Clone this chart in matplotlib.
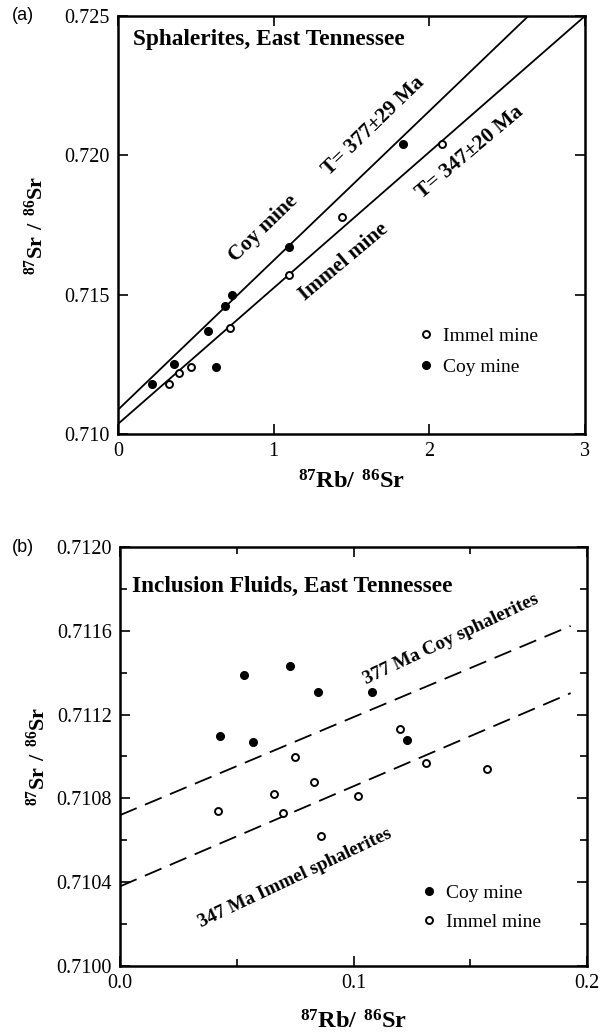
import numpy as np
import matplotlib
matplotlib.use("Agg")
import matplotlib.pyplot as plt
from matplotlib.lines import Line2D
from matplotlib.ticker import MultipleLocator, FormatStrFormatter

plt.rcParams['font.family'] = ['Liberation Serif', 'DejaVu Serif']
plt.rcParams['mathtext.fontset'] = 'custom'
plt.rcParams['mathtext.rm'] = 'Liberation Serif'
plt.rcParams['mathtext.bf'] = 'Liberation Serif:bold'

# (a) sphalerites
a_coy_x = [0.22, 0.36, 0.58, 0.63, 0.69, 0.73, 1.10, 1.83]
a_coy_y = [0.7118, 0.7125, 0.7137, 0.7124, 0.7146, 0.7150, 0.7167, 0.7204]
a_imm_x = [0.33, 0.39, 0.47, 0.72, 1.10, 1.44, 2.08]
a_imm_y = [0.7118, 0.7122, 0.7124, 0.7138, 0.7157, 0.7178, 0.7204]
a_iso_coy = (0.71087, 0.00536)   # intercept, slope
a_iso_imm = (0.71036, 0.00488)

# (b) inclusion fluids
b_coy_x = [0.043, 0.053, 0.057, 0.073, 0.085, 0.108, 0.123]
b_coy_y = [0.71110, 0.71139, 0.71107, 0.71143, 0.71131, 0.71131, 0.71108]
b_imm_x = [0.042, 0.066, 0.070, 0.075, 0.083, 0.086, 0.102, 0.120, 0.131, 0.157]
b_imm_y = [0.71074, 0.71082, 0.71073, 0.71100, 0.71088, 0.71062, 0.71081,
           0.71113, 0.71097, 0.71094]
b_ref_coy = (0.71072, 0.00468)
b_ref_imm = (0.71038, 0.00478)

fig = plt.figure(figsize=(6.04, 10.36), dpi=100)
ax1 = fig.add_axes([118 / 604, 1 - 434 / 1036, 467 / 604, 418 / 1036])
ax2 = fig.add_axes([120 / 604, 1 - 966 / 1036, 467 / 604, 419 / 1036])

filled = dict(marker='o', ls='none', ms=5.5, mfc='black', mec='black')
hollow = dict(marker='o', ls='none', ms=5, mfc='white', mec='black', mew=1.4)


def style(ax):
    for s in ax.spines.values():
        s.set_linewidth(1.8)
    ax.tick_params(which='both', direction='in', top=True, right=True,
                   labelsize=14.5, width=1.2, pad=6)
    ax.tick_params(which='major', length=7)
    ax.tick_params(which='minor', length=5)


# ---- panel (a)
for b, m in (a_iso_coy, a_iso_imm):
    xe = min(3.0, (0.725 - b) / m)
    ax1.plot([0, xe], [b, b + m * xe], color='black', lw=1.3)
ax1.plot(a_imm_x, a_imm_y, **hollow)
ax1.plot(a_coy_x, a_coy_y, **filled)
ax1.set_xlim(0, 3)
ax1.set_ylim(0.710, 0.725)
ax1.xaxis.set_major_locator(MultipleLocator(1))
ax1.yaxis.set_major_locator(MultipleLocator(0.005))
ax1.yaxis.set_major_formatter(FormatStrFormatter('%.3f'))
style(ax1)

title = dict(fontweight='bold', fontsize=16.8)
rot = dict(fontweight='bold', fontsize=15.4, ha='center', va='center',
           rotation_mode='anchor')
ax1.text(0.096, 0.72414, 'Sphalerites, East Tennessee', ha='left', va='center', **title)
ax1.text(0.936, 0.71736, 'Coy mine', rotation=44, **rot)
ax1.text(1.641, 0.72104, 'T= 377±29 Ma', rotation=44, **rot)
ax1.text(1.449, 0.71618, 'Immel mine', rotation=40, **rot)
ax1.text(2.263, 0.72011, 'T= 347±20 Ma', rotation=40, **rot)

h_imm = Line2D([], [], **hollow)
h_coy = Line2D([], [], **filled)
ax1.legend([h_imm, h_coy], ['Immel mine', 'Coy mine'], loc='upper left',
           bbox_to_anchor=(0.609, 0.297), frameon=False, fontsize=14,
           handlelength=0.6, handletextpad=0.6, labelspacing=0.7)

ax1.text(-0.175, 0.5, r'$\mathbf{^{87}Sr\ /\ ^{86}Sr}$', transform=ax1.transAxes,
         rotation=90, ha='center', va='center', fontsize=16)
ax1.text(0.5, -0.115, r'$\mathbf{^{87}Rb/\ ^{86}Sr}$', transform=ax1.transAxes,
         ha='center', va='center', fontsize=17.5)

# ---- panel (b)
xr = np.array([0.0, 0.193])
for b, m in (b_ref_coy, b_ref_imm):
    ax2.plot(xr, b + m * xr, color='black', lw=1.3, dashes=(10, 5))
ax2.plot(b_coy_x, b_coy_y, **filled)
ax2.plot(b_imm_x, b_imm_y, **hollow)
ax2.set_xlim(0, 0.2)
ax2.set_ylim(0.7100, 0.7120)
ax2.xaxis.set_major_locator(MultipleLocator(0.1))
ax2.xaxis.set_minor_locator(MultipleLocator(0.05))
ax2.xaxis.set_major_formatter(FormatStrFormatter('%.1f'))
ax2.yaxis.set_major_locator(MultipleLocator(0.0004))
ax2.yaxis.set_minor_locator(MultipleLocator(0.0002))
ax2.yaxis.set_major_formatter(FormatStrFormatter('%.4f'))
style(ax2)

ax2.text(0.00513, 0.71181, 'Inclusion Fluids, East Tennessee', ha='left',
         va='center', **title)
ax2.text(0.1418, 0.71156, '377 Ma Coy sphalerites', rotation=25.3, ha='center',
         va='center', rotation_mode='anchor', fontweight='bold', fontsize=13.8)
ax2.text(0.0748, 0.71042, '347 Ma Immel sphalerites', rotation=25.3, ha='center',
         va='center', rotation_mode='anchor', fontweight='bold', fontsize=13.8)

ax2.legend([h_coy, h_imm], ['Coy mine', 'Immel mine'], loc='upper left',
           bbox_to_anchor=(0.611, 0.2365), frameon=False, fontsize=14,
           handlelength=0.6, handletextpad=0.6, labelspacing=0.6)

ax2.text(-0.175, 0.5, r'$\mathbf{^{87}Sr\ /\ ^{86}Sr}$', transform=ax2.transAxes,
         rotation=90, ha='center', va='center', fontsize=16)
ax2.text(0.5, -0.134, r'$\mathbf{^{87}Rb/\ ^{86}Sr}$', transform=ax2.transAxes,
         ha='center', va='center', fontsize=17.5)

fig.text(12 / 604, 1 - 16 / 1036, '(a)', family='Liberation Sans', fontsize=13,
         ha='left', va='center')
fig.text(12 / 604, 1 - 548 / 1036, '(b)', family='Liberation Sans', fontsize=13,
         ha='left', va='center')

fig.savefig('out.png', dpi=100)
